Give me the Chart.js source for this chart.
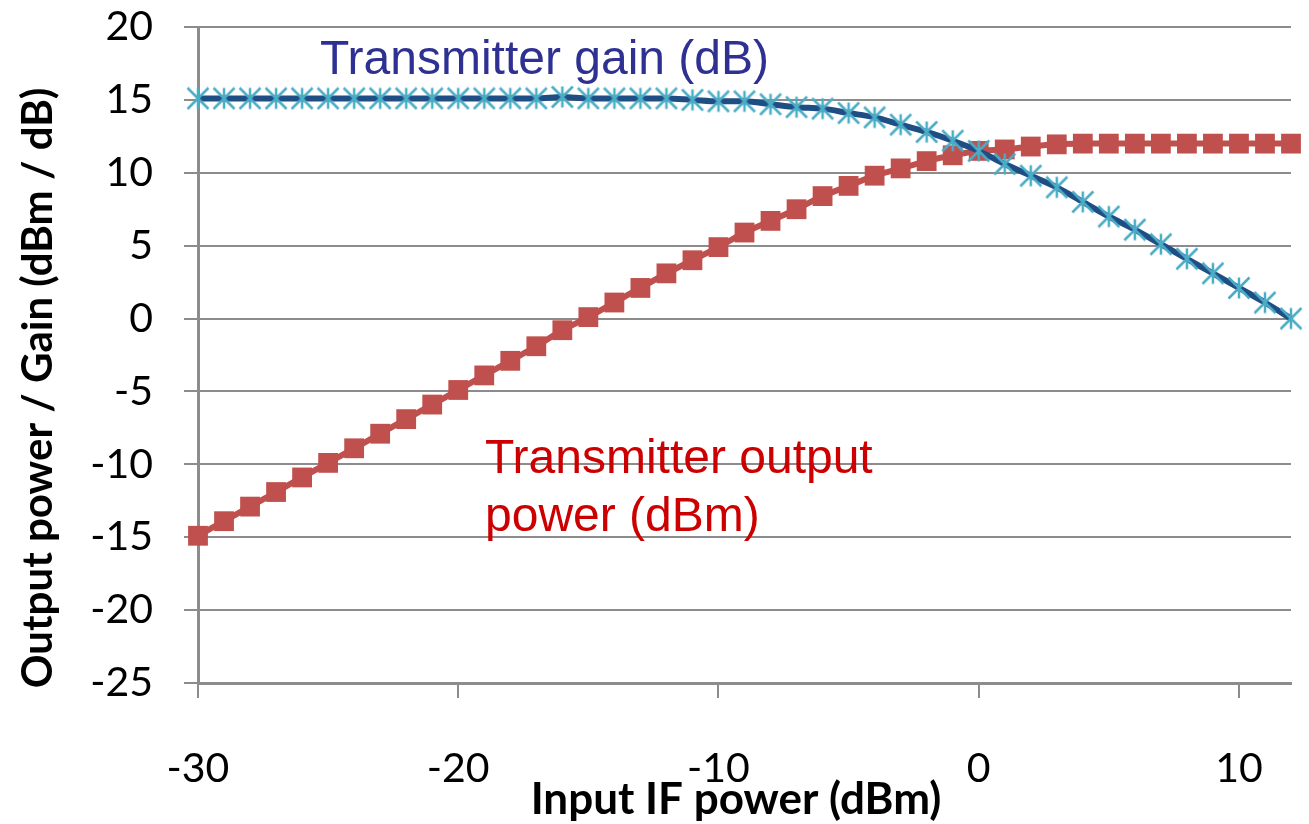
<!DOCTYPE html>
<html>
<head>
<meta charset="utf-8">
<script src="https://cdn.jsdelivr.net/npm/chart.js@4"></script>
<style>
  html, body { margin: 0; padding: 0; background: #fff; }
  #wrap { width: 1309px; height: 824px; position: relative; }
</style>
</head>
<body>
<div id="wrap"><canvas id="txChart"></canvas></div>
<script>
// Input IF power sweep (dBm)
const inputPower = [-30, -29, -28, -27, -26, -25, -24, -23, -22, -21, -20, -19, -18, -17, -16, -15, -14, -13, -12, -11,
    -10, -9, -8, -7, -6, -5, -4, -3, -2, -1, 0, 1, 2, 3, 4, 5, 6, 7, 8, 9, 10, 11, 12];

// Transmitter gain (dB)
const gainDb = [15.1, 15.1, 15.1, 15.1, 15.1, 15.1, 15.1, 15.1, 15.1, 15.1, 15.1, 15.1, 15.1, 15.1, 15.2, 15.1, 15.1, 15.1, 15.1, 15.0,
    14.9, 14.9, 14.7, 14.5, 14.4, 14.1, 13.8, 13.3, 12.8, 12.2, 11.5, 10.6, 9.8, 9.0, 8.0, 7.0, 6.1, 5.1, 4.1, 3.1, 2.1, 1.1, 0.0];

// Transmitter output power (dBm)
const outputDbm = [-14.9, -13.9, -12.9, -11.9, -10.9, -9.9, -8.9, -7.9, -6.9, -5.9, -4.9, -3.9, -2.9, -1.9, -0.8, 0.1, 1.1, 2.1, 3.1, 4.0,
    4.9, 5.9, 6.7, 7.5, 8.4, 9.1, 9.8, 10.3, 10.8, 11.2, 11.5, 11.6, 11.8, 11.95, 12.0, 12.0, 12.0, 12.0, 12.0, 12.0, 12.0, 12.0, 12.0];

const xTicks = [-30, -20, -10, 0, 10];
const yTicks = [-25, -20, -15, -10, -5, 0, 5, 10, 15, 20];

// asterisk marker like the Excel "star" (X plus vertical bar)
function makeAsterisk(size, color) {
    const c = document.createElement('canvas');
    c.width = size; c.height = size;
    const g = c.getContext('2d');
    const m = size / 2, r = size / 2 - 1.5;
    g.strokeStyle = color;
    g.lineWidth = 2.5;
    g.beginPath();
    g.moveTo(m, m - r); g.lineTo(m, m + r);
    g.moveTo(m - r, m - r); g.lineTo(m + r, m + r);
    g.moveTo(m + r, m - r); g.lineTo(m - r, m + r);
    g.stroke();
    return c;
}
const starMarker = makeAsterisk(24, '#4BACC6');

const pts = (ys) => inputPower.map((x, i) => ({ x: x, y: ys[i] }));

const textLayer = {
    id: 'textLayer',
    afterDraw(chart) {
        const ctx = chart.ctx;
        ctx.save();
        ctx.fillStyle = '#000';
        ctx.font = 'bold 42px Lato';
        ctx.textAlign = 'center';
        ctx.textBaseline = 'middle';
        ctx.save();
        ctx.translate(38, 388);
        ctx.rotate(-Math.PI / 2);
        ctx.fillText('Output power / Gain (dBm / dB)', 0, 0);
        ctx.restore();
        ctx.font = 'bold 44px Lato';
        ctx.fillText('Input IF power (dBm)', 736, 800);

        ctx.textAlign = 'left';
        ctx.textBaseline = 'alphabetic';
        ctx.font = '48px "Liberation Sans", Arial, sans-serif';
        ctx.fillStyle = '#2E3192';
        ctx.fillText('Transmitter gain (dB)', 320, 74);
        ctx.fillStyle = '#CC0000';
        ctx.fillText('Transmitter output', 485, 473);
        ctx.fillText('power (dBm)', 485, 531);
        ctx.restore();
    }
};

new Chart(document.getElementById('txChart'), {
    type: 'line',
    data: {
        datasets: [{
            label: 'Transmitter gain (dB)',
            data: pts(gainDb),
            borderColor: '#1F4E85',
            borderWidth: 6,
            tension: 0.4,
            cubicInterpolationMode: 'monotone',
            pointStyle: starMarker,
            pointRadius: 12,
            clip: false
        }, {
            label: 'Transmitter output power (dBm)',
            data: pts(outputDbm),
            borderColor: '#C0504D',
            backgroundColor: '#C0504D',
            borderWidth: 6,
            tension: 0.2,
            pointStyle: 'rect',
            pointRadius: 14,
            pointBorderWidth: 0,
            pointBackgroundColor: '#C0504D',
            clip: false
        }]
    },
    options: {
        responsive: true,
        maintainAspectRatio: false,
        animation: false,
        layout: { padding: { left: 0, right: 15, top: 27, bottom: 0 } },
        plugins: { legend: { display: false }, tooltip: { enabled: false } },
        scales: {
            x: {
                type: 'linear',
                min: -30,
                max: 12,
                afterBuildTicks: (s) => { s.ticks = xTicks.map(v => ({ value: v })); },
                afterFit: (s) => { s.height = 141; s.paddingLeft = 0; s.paddingRight = 0; },
                grid: { drawOnChartArea: false, color: '#8c8c8c', lineWidth: 2, tickLength: 15 },
                border: { color: '#8c8c8c', width: 3 },
                ticks: { color: '#000', font: { family: 'Lato', size: 41 }, padding: 46, maxRotation: 0, callback: v => String(v) }
            },
            y: {
                min: -25,
                max: 20,
                afterBuildTicks: (s) => { s.ticks = yTicks.map(v => ({ value: v })); },
                afterFit: (s) => { s.width = 198; s.paddingTop = 0; s.paddingBottom = 0; },
                grid: { color: '#8c8c8c', lineWidth: 2, tickLength: 14 },
                border: { color: '#8c8c8c', width: 3 },
                ticks: { color: '#000', font: { family: 'Lato', size: 41 }, padding: 31, callback: v => String(v) }
            }
        }
    },
    plugins: [textLayer]
});
</script>
</body>
</html>
